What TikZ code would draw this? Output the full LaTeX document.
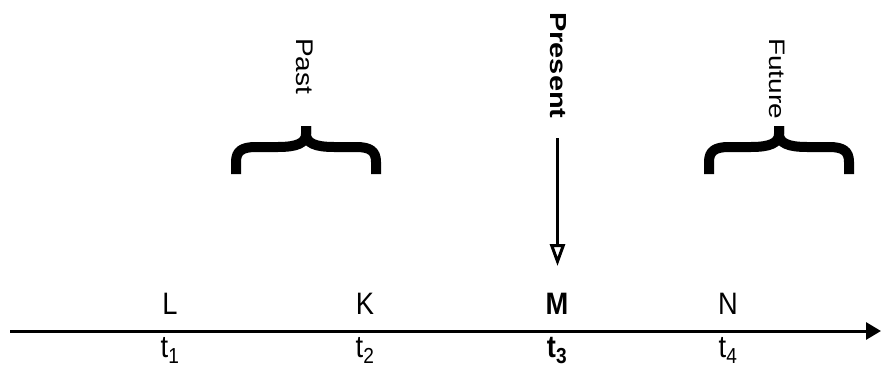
\documentclass[tikz,border=0pt]{standalone}
\usepackage{fontspec}
\setmainfont{Liberation Sans}
\usetikzlibrary{arrows.meta}
\tikzset{
  lbl/.style={inner sep=0pt, anchor=base, font=\fontsize{31}{34}\selectfont},
  vlbl/.style={inner sep=0pt, anchor=base west, rotate=-90, font=\fontsize{28}{32}\selectfont},
  brace/.style={line width=10pt, line cap=butt, line join=round},
  axis/.style={line width=3pt, -{Triangle[length=15pt,width=17pt]}},
  nowarrow/.style={line width=3pt, -{Triangle[open,length=22pt,width=15pt,line width=3pt]}},
  bracepic/.pic={
    \draw[brace] (-70,48) -- (-70,36) .. controls (-70,25) and (-64,21) .. (-50,21)
      -- (-28,21) .. controls (-9,21) and (0,17) .. (0,8) -- (0,0);
    \draw[brace] (70,48) -- (70,36) .. controls (70,25) and (64,21) .. (50,21)
      -- (28,21) .. controls (9,21) and (0,17) .. (0,8) -- (0,0);
  }
}
\newcommand{\nrw}[1]{\scalebox{0.88}[1]{#1}}
\begin{document}
\begin{tikzpicture}[x=1pt,y=-1pt]
\useasboundingbox (0,0) rectangle (881,367);
% axis
\coordinate (axS) at (10,331);
\coordinate (axE) at (881,331);
\draw[axis] (axS) -- (axE);
% labels above
\node[lbl] (L) at (170,314) {\nrw{L}};
\node[lbl] (K) at (365,314) {\nrw{K}};
\node[lbl] (M) at (557,314) {\nrw{\textbf{M}}};
\node[lbl] (N) at (728,314) {\nrw{N}};
% labels below
\node[lbl] (t1) at (170,357) {\nrw{t\textsubscript{1}}};
\node[lbl] (t2) at (365,357) {\nrw{t\textsubscript{2}}};
\node[lbl] (t3) at (557,357) {\nrw{\textbf{t\textsubscript{3}}}};
\node[lbl] (t4) at (728,357) {\nrw{t\textsubscript{4}}};
% rotated labels
\node[vlbl] (past) at (296,38) {\scalebox{1}[0.86]{Past}};
\node[vlbl] (present) at (550,12) {\scalebox{1}[0.8]{\fontsize{29}{32}\selectfont\bfseries Present}};
\node[vlbl] (future) at (769,38) {\scalebox{1}[0.8]{Future}};
% braces
\pic at (306,126) {bracepic};
\pic at (779,126) {bracepic};
% present arrow
\coordinate (arS) at (557.5,138);
\coordinate (arE) at (557.5,266);
\draw[nowarrow] (arS) -- (arE);
\end{tikzpicture}
\end{document}
